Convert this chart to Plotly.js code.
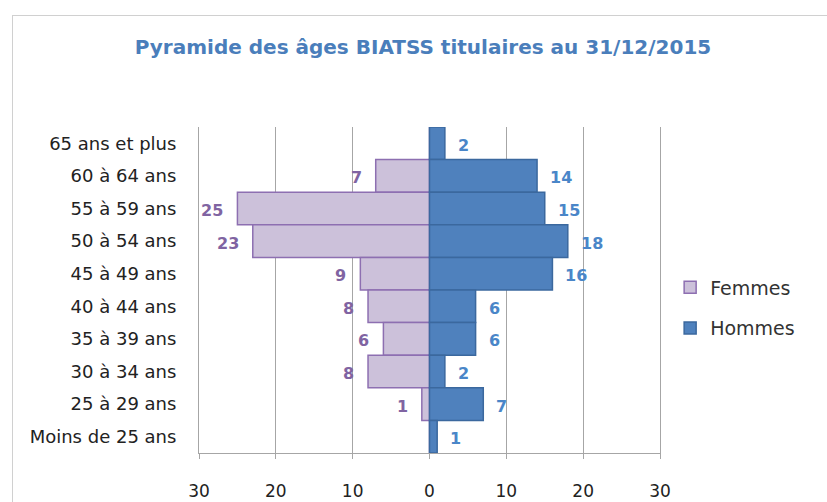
<!DOCTYPE html>
<html>
<head>
<meta charset="utf-8">
<script src="https://cdn.plot.ly/plotly-3.0.1.min.js"></script>
<style>
  html, body { margin:0; padding:0; background:#fff; }
  #frame { position:absolute; left:12px; top:15px; width:815px; height:487px;
           border-left:1px solid #d0d0d0; border-top:1px solid #d0d0d0; }
  #chart { position:absolute; left:0; top:0; width:827px; height:502px; }
</style>
</head>
<body>
<div id="frame"></div>
<div id="chart"></div>
<script>
const categories = ["65 ans et plus", "60 à 64 ans", "55 à 59 ans", "50 à 54 ans", "45 à 49 ans",
                    "40 à 44 ans", "35 à 39 ans", "30 à 34 ans", "25 à 29 ans", "Moins de 25 ans"];
const femmes = [0, 7, 25, 23, 9, 8, 6, 8, 1, 0];
const hommes = [2, 14, 15, 18, 16, 6, 6, 2, 7, 1];
const tickVals = [-30, -20, -10, 0, 10, 20, 30];
const tickText = ["30", "20", "10", "0", "10", "20", "30"];

const femColor = "#ccc1da", femLine = "#8d6fb1", femText = "#8064a2";
const homColor = "#4f81bd", homLine = "#3b689e", homText = "#4a86c8";

const traces = [
  { type: "bar", orientation: "h", name: "Femmes", y: categories, x: femmes.map(v => -v),
    marker: { color: femColor, line: { color: femLine, width: 1.5 } },
    legendgroup: "f", hoverinfo: "skip" },
  { type: "bar", orientation: "h", name: "Hommes", y: categories, x: hommes,
    marker: { color: homColor, line: { color: homLine, width: 1.5 } },
    legendgroup: "h", hoverinfo: "skip" }
];

const annotations = [];
categories.forEach((c, i) => {
  if (femmes[i] > 0) annotations.push({ x: -femmes[i], y: c, text: String(femmes[i]), showarrow: false,
    xanchor: "right", xshift: -12, yshift: -2,
    font: { family: "DejaVu Sans", size: 16, color: femText, weight: "bold" } });
  if (hommes[i] > 0) annotations.push({ x: hommes[i], y: c, text: String(hommes[i]), showarrow: false,
    xanchor: "left", xshift: 11, yshift: -2,
    font: { family: "DejaVu Sans", size: 16, color: homText, weight: "bold" } });
});

const layout = {
  width: 827, height: 502,
  margin: { l: 199, r: 167, t: 127, b: 49 },
  paper_bgcolor: "rgba(0,0,0,0)", plot_bgcolor: "rgba(0,0,0,0)",
  barmode: "overlay", bargap: 0,
  title: { text: "<b>Pyramide des âges BIATSS titulaires au 31/12/2015</b>",
    font: { family: "DejaVu Sans", size: 20, color: "#4a7ebb" },
    xref: "container", x: 0.5115, xanchor: "center", yref: "container", y: 0.906, yanchor: "middle" },
  xaxis: { range: [-30, 30], tickvals: tickVals, ticktext: tickText, showgrid: true, gridcolor: "#a6a6a6",
    gridwidth: 1, zeroline: false, showline: true, linecolor: "#a6a6a6", linewidth: 1,
    ticks: "outside", ticklen: 5, tickcolor: "#a6a6a6", ticklabelstandoff: 18,
    tickfont: { family: "DejaVu Sans", size: 17, color: "#222" }, fixedrange: true },
  yaxis: { type: "category", categoryorder: "array", categoryarray: categories, autorange: "reversed",
    showgrid: false, zeroline: false, showline: true, mirror: true, linecolor: "#a6a6a6", linewidth: 1,
    ticks: "", ticklabelstandoff: 18,
    tickfont: { family: "DejaVu Sans", size: 18, color: "#222" }, fixedrange: true },
  showlegend: true,
  legend: { x: 1.022, xanchor: "left", y: 0.566, yanchor: "top", traceorder: "grouped", tracegroupgap: 13,
    font: { family: "DejaVu Sans", size: 19, color: "#333" }, bgcolor: "rgba(0,0,0,0)" },
  annotations: annotations
};

Plotly.newPlot("chart", traces, layout, { displayModeBar: false, staticPlot: true });
</script>
</body>
</html>
